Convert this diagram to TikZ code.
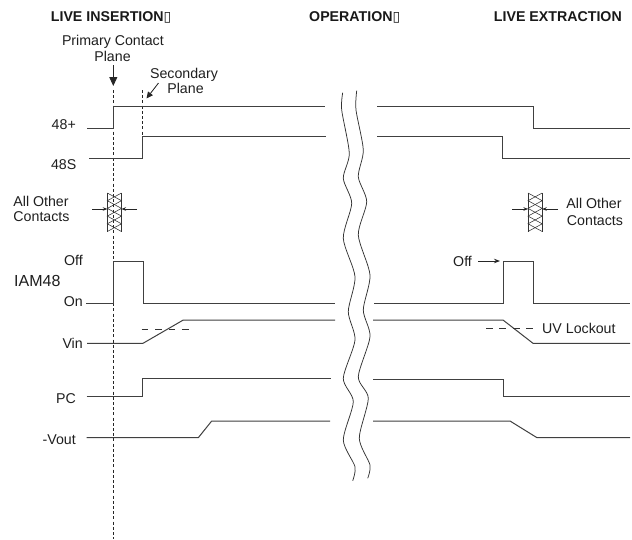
\documentclass[tikz,border=0pt]{standalone}
\usepackage{fontspec}
\setmainfont{Liberation Sans}
\newfontfamily\boxglyph{DejaVu Sans}
\usetikzlibrary{arrows.meta}
\newcommand\lblsize{\fontsize{14.2}{15.3}\selectfont}
\tikzset{
  sig/.style={line width=1pt, draw=black!75, line join=miter},
  lbl/.style={inner sep=0pt, font=\lblsize, text=black!88},
  head/.style={inner sep=0pt, font=\lblsize\bfseries, text=black!90},
  planeline/.style={dash pattern=on 3pt off 2.2pt, line width=0.8pt, draw=black!85},
  thr/.style={dash pattern=on 6.7pt off 6.7pt, line width=0.9pt, draw=black!80},
  wave/.style={line width=0.75pt, draw=black!80},
  bigarrow/.style={-{Triangle[length=9pt,width=8pt]}, line width=0.9pt, draw=black!85, fill=black!85},
  smallarrow/.style={-{Stealth[length=4.5pt,width=3.5pt]}, line width=0.6pt, draw=black!85},
  midarrow/.style={-{Stealth[length=6pt,width=4.5pt]}, line width=0.8pt, draw=black!85},
  contactx/.pic={
    \draw[line width=0.7pt, draw=black!80] (0,0) -- (0,38.5) (14.2,0) -- (14.2,38.5);
    \draw[line width=0.55pt, draw=black!80] (0,0) -- (14.2,7.7) -- (0,15.4) -- (14.2,23.1) -- (0,30.8) -- (14.2,38.5);
    \draw[line width=0.55pt, draw=black!80] (14.2,0) -- (0,7.7) -- (14.2,15.4) -- (0,23.1) -- (14.2,30.8) -- (0,38.5);
  }
}
\begin{document}
\begin{tikzpicture}[x=1pt,y=-1pt]
\useasboundingbox[fill=white] (0,0) rectangle (632,539);

% headings
\node[head,anchor=base west] (hIns) at (50.7,21.7) {LIVE INSERTION{\boxglyph\fontsize{14}{14}\selectfont ▯}};
\node[head,anchor=base west] (hOp) at (309,21.7) {OPERATION{\boxglyph\fontsize{14}{14}\selectfont ▯}};
\node[head,anchor=base east] (hExt) at (622,21.7) {LIVE EXTRACTION};

% plane labels and arrows
\node[lbl,anchor=base] (pc1) at (112.9,45.7) {Primary Contact};
\node[lbl,anchor=base] (pc2) at (112.5,61) {Plane};
\node[lbl,anchor=base] (sp1) at (184,78.5) {Secondary};
\node[lbl,anchor=base] (sp2) at (185.5,93.5) {Plane};
\coordinate (pA) at (113.3,65);
\coordinate (pB) at (113.3,86);
\coordinate (sA) at (158.5,83);
\coordinate (sB) at (146.5,98.5);
\draw[bigarrow] (pA) -- (pB);
\draw[-{Triangle[length=6.5pt,width=6pt]}, line width=0.8pt, draw=black!85, fill=black!85] (sA) -- (sB);

% contact planes
\coordinate (prTop) at (113.3,90);
\coordinate (prBot) at (113.3,539);
\coordinate (seTop) at (142.7,90);
\coordinate (seBot) at (142.7,136.7);
\draw[planeline] (prTop) -- (prBot);
\draw[planeline] (seTop) -- (seBot);

% signal labels
\node[lbl,anchor=base east] (l48p) at (76,129) {48+};
\node[lbl,anchor=base east] (l48s) at (76.5,169) {48S};
\node[lbl,anchor=base] (aoL1) at (41,206.7) {All Other};
\node[lbl,anchor=base] (aoL2) at (41.5,221.7) {Contacts};
\node[lbl,anchor=base] (aoR1) at (594,208) {All Other};
\node[lbl,anchor=base] (aoR2) at (595,225) {Contacts};
\node[lbl,anchor=base east] (lOff) at (83,265) {Off};
\node[inner sep=0pt, font=\fontsize{16}{16}\selectfont, text=black!88, anchor=base west] (lIAM) at (14,286) {IAM48};
\node[lbl,anchor=base east] (lOn) at (83,306.7) {On};
\node[lbl,anchor=base west] (rOff) at (453,266) {Off};
\node[lbl,anchor=base east] (lVin) at (83,348) {Vin};
\node[lbl,anchor=base west] (uvl) at (542,333) {UV Lockout};
\node[lbl,anchor=base east] (lPC) at (76,403) {PC};
\node[lbl,anchor=base east] (lVout) at (76,444) {-Vout};

% 48+
\draw[sig] (87,128.3) -- (113.7,128.3) -- (113.7,106.7) -- (325,106.7);
\draw[sig] (377,106.7) -- (533.3,106.7) -- (533.3,128.3) -- (630,128.3);
% 48S
\draw[sig] (89,158.3) -- (142.7,158.3) -- (142.7,136.7) -- (326,136.7);
\draw[sig] (377,136.7) -- (502.7,136.7) -- (502.7,158.3) -- (630,158.3);

% all other contacts
\pic (cL) at (107.3,193) {contactx};
\pic (cR) at (528,193) {contactx};
\coordinate (cLa) at (92,209);
\coordinate (cLb) at (107.3,209);
\coordinate (cLc) at (137,209);
\coordinate (cLd) at (121.5,209);
\coordinate (cRa) at (512,209);
\coordinate (cRb) at (528,209);
\coordinate (cRc) at (558,209);
\coordinate (cRd) at (542.2,209);
\draw[smallarrow] (cLa) -- (cLb);
\draw[smallarrow] (cLc) -- (cLd);
\draw[smallarrow] (cRa) -- (cRb);
\draw[smallarrow] (cRc) -- (cRd);

% IAM48
\draw[sig] (86,303.3) -- (113.7,303.3) -- (113.7,261) -- (143.3,261) -- (143.3,303.3) -- (335,303.3);
\draw[sig] (374,303.3) -- (503,303.3) -- (503,261) -- (533,261) -- (533,303.3) -- (630,303.3);
\coordinate (offB) at (500,261);
\draw[midarrow] (rOff.east |- offB) ++(6,0) -- (offB);

% Vin
\draw[sig] (87,343.3) -- (143,343.3) -- (183.3,320) -- (335,320);
\draw[sig] (373,320) -- (503,320) -- (533,343.3) -- (630,343.3);
\draw[thr] (141.7,329) -- (190,329);
\draw[thr] (486,328) -- (536,328);

% PC
\draw[sig] (86.7,396) -- (142.7,396) -- (142.7,378.7) -- (331,378.7);
\draw[sig] (373,379) -- (503,379) -- (503,396) -- (630,396);

% -Vout
\draw[sig] (86.7,437.7) -- (198.3,437.7) -- (211.7,421) -- (330,421);
\draw[sig] (373,421) -- (510,421) -- (537,437.7) -- (630,437.7);

% break lines
\draw[wave] plot[smooth, tension=0.45] coordinates {(342.7,92.7) (341.7,110) (349.3,153.3) (343.3,178.3) (351.7,203.3) (343.3,238.3) (355,276.7) (348.3,311.7) (355,340) (343.3,378.3) (353.3,401.7) (343.3,440) (355,466.7) (352.7,480.7)};
\draw[wave] plot[smooth, tension=0.45] coordinates {(356.7,90.7) (356,110) (363.3,150) (358.3,176.7) (366.7,201.7) (358.3,235) (370,275) (363.3,310) (370,336.7) (358.3,376.7) (368.3,398.3) (359.3,438.3) (370,465) (367.7,478.3)};
\end{tikzpicture}
\end{document}
